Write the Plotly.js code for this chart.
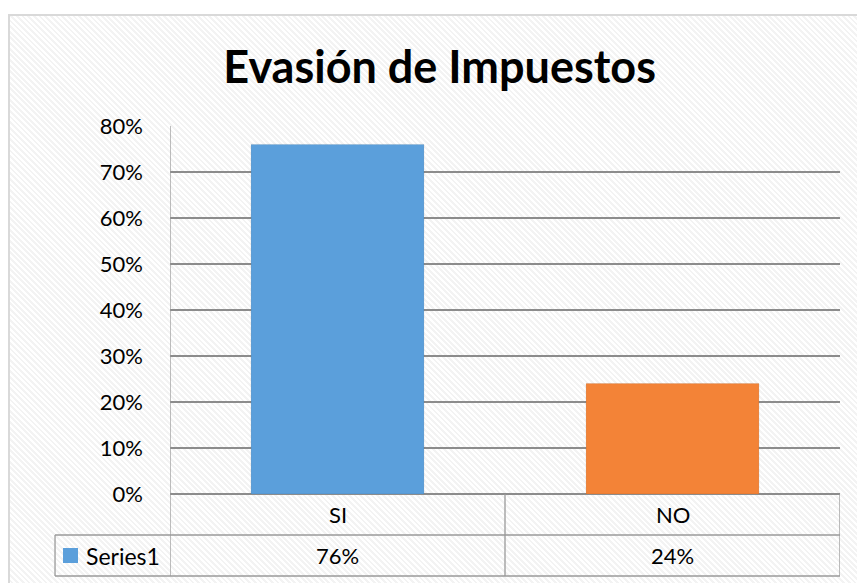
<!DOCTYPE html>
<html>
<head>
<meta charset="utf-8">
<script src="https://cdn.plot.ly/plotly-3.0.1.min.js"></script>
<style>
html,body{margin:0;padding:0;background:#fff;}
#wrap{position:absolute;left:8px;top:14px;width:860px;height:580px;border-left:2px solid #d9d9d9;border-top:2px solid #d9d9d9;
background:repeating-linear-gradient(45deg,#ffffff 0px,#ffffff 2px,#f3f3f3 2px,#f3f3f3 4px);}
#chart{position:absolute;left:0;top:0;width:857px;height:583px;}
</style>
</head>
<body>
<div id="wrap"></div>
<div id="chart"></div>
<script>
const chartTitle = 'Evasión de Impuestos';
const categories = ['SI', 'NO'];
const seriesName = 'Series1';
const values = [0.76, 0.24];
const valueLabels = ['76%', '24%'];
const barColors = ['#5B9FDB', '#F38337'];
const yTicks = [0, 0.1, 0.2, 0.3, 0.4, 0.5, 0.6, 0.7, 0.8];

const FONT = 'Lato, "Open Sans", sans-serif';
const lineCol = '#9a9a9a';
const rowH = 41 / 368; // table row height in paper units

const shapes = [];
shapes.push({type:'line', xref:'x', yref:'paper', x0:-0.5, x1:-0.5, y0:1, y1:-2*rowH, line:{color:lineCol, width:1.3}});
shapes.push({type:'line', xref:'x', yref:'paper', x0:categories.length-0.5, x1:categories.length-0.5, y0:0, y1:-2*rowH, line:{color:lineCol, width:1.3}});
for (let i = 1; i < categories.length; i++) {
  shapes.push({type:'line', xref:'x', yref:'paper', x0:i-0.5, x1:i-0.5, y0:0, y1:-2*rowH, line:{color:lineCol, width:1.3}});
}
const legendLeft = -0.1716;
shapes.push({type:'line', xref:'paper', yref:'paper', x0:legendLeft, x1:1, y0:-rowH, y1:-rowH, line:{color:lineCol, width:1.3}});
shapes.push({type:'line', xref:'paper', yref:'paper', x0:legendLeft, x1:1, y0:-2*rowH, y1:-2*rowH, line:{color:lineCol, width:1.3}});
shapes.push({type:'line', xref:'paper', yref:'paper', x0:legendLeft, x1:legendLeft, y0:-rowH, y1:-2*rowH, line:{color:lineCol, width:1.3}});
shapes.push({type:'rect', xref:'paper', yref:'paper', x0:(63-170)/670, x1:(78-170)/670, y0:(494-548)/368, y1:(494-563)/368, fillcolor:barColors[0], line:{width:0}});

const annotations = [];
categories.forEach((c, i) => {
  annotations.push({x:i, xref:'x', y:-rowH/2, yref:'paper', text:c, showarrow:false, font:{family:FONT, size:22, color:'#000'}, yanchor:'middle'});
  annotations.push({x:i, xref:'x', y:-1.5*rowH, yref:'paper', text:valueLabels[i], showarrow:false, font:{family:FONT, size:22, color:'#000'}, yanchor:'middle'});
});
annotations.push({x:(84-170)/670, xref:'paper', y:-1.5*rowH, yref:'paper', text:seriesName, showarrow:false, xanchor:'left', yanchor:'middle', font:{family:FONT, size:23, color:'#000'}});

const data = [{
  type:'bar', x:categories, y:values, name:seriesName,
  marker:{color:barColors, line:{color:'rgba(0,0,0,0.08)', width:1}},
  hoverinfo:'none'
}];

const layout = {
  width:857, height:583,
  margin:{l:170, r:17, t:126, b:89, pad:0},
  paper_bgcolor:'rgba(0,0,0,0)', plot_bgcolor:'rgba(0,0,0,0)',
  showlegend:false,
  bargap:0.484,
  title:{text:'<b>'+chartTitle+'</b>', x:0.513, xanchor:'center', y:1-67/583, yanchor:'middle', font:{family:FONT, size:45, color:'#000'}},
  xaxis:{type:'category', showticklabels:false, showgrid:false, zeroline:false, showline:false, ticks:'', range:[-0.5, 1.5], fixedrange:true},
  yaxis:{range:[0, 0.8], tickvals:yTicks, tickformat:'.0%', showgrid:true, gridcolor:'#8c8c8c', gridwidth:1.2,
         zeroline:true, zerolinecolor:'#8c8c8c', zerolinewidth:1.3, showline:false, ticks:'',
         ticklabelstandoff:26, tickfont:{family:FONT, size:22, color:'#000'}, fixedrange:true},
  shapes:shapes, annotations:annotations
};
Plotly.newPlot('chart', data, layout, {staticPlot:true, displayModeBar:false});
</script>
</body>
</html>
